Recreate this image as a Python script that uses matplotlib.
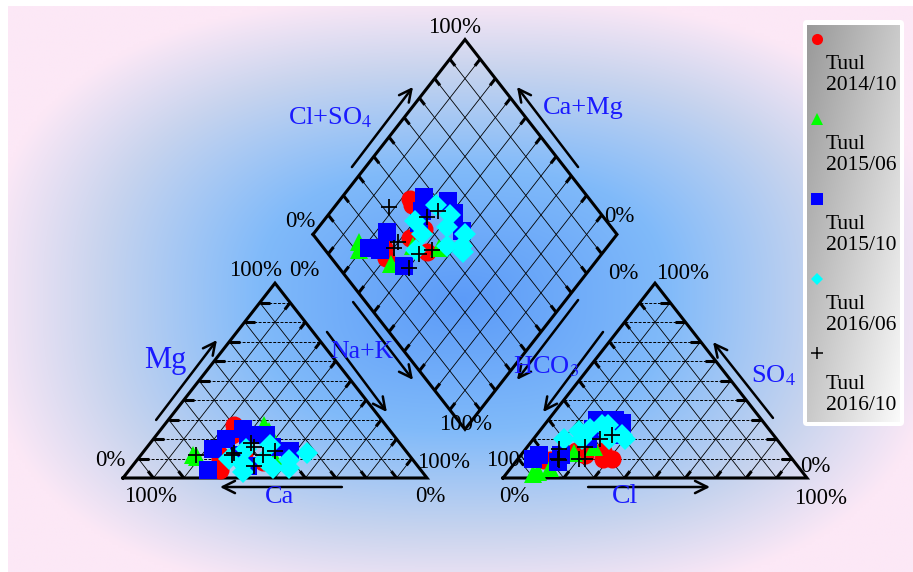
import matplotlib.pyplot as plt
import numpy as np
from matplotlib.patches import FancyBboxPatch

plt.rcParams["font.family"] = ["Liberation Serif", "DejaVu Serif"]
plt.rcParams["mathtext.fontset"] = "stix"

# water samples, percent of meq/L
# cations: Na+K and Mg (Ca is the rest); anions: Cl and SO4 (HCO3 is the rest)
labels = ["Tuul\n2014/10", "Tuul\n2015/06", "Tuul\n2015/10", "Tuul\n2016/06", "Tuul\n2016/10"]
colours = ["#ff0000", "#00ff00", "#0000ff", "#00ffff", "#000000"]
markers = ["o", "^", "s", "D", "+"]

nak_1410 = [23, 26, 30, 35, 42, 33, 25, 27]
mg_1410 = [27, 12, 4, 9, 8, 14, 22, 10]
cl_1410 = [31, 11, 9, 28, 21, 17, 26, 12]
so4_1410 = [10, 9, 9, 10, 12, 14, 14, 8]

nak_1506 = [17, 19, 33, 45, 36]
mg_1506 = [12, 11, 27, 10, 24]
cl_1506 = [10, 9, 13, 22, 17]
so4_1506 = [3, 2, 5, 16, 13]

nak_1510 = [27, 24, 38, 48, 41, 22, 30, 32, 36, 26]
mg_1510 = [25, 20, 6, 14, 16, 15, 22, 12, 22, 4]
cl_1510 = [16, 13, 14, 28, 22, 5, 17, 18, 25, 6]
so4_1510 = [30, 12, 8, 22, 30, 10, 25, 20, 28, 12]

nak_1606 = [33, 52, 54, 38, 47, 40, 30, 42, 36, 50]
mg_1606 = [15, 5, 13, 3, 5, 17, 10, 9, 7, 9]
cl_1606 = [21, 24, 25, 10, 16, 28, 13, 19, 16, 30]
so4_1606 = [27, 22, 20, 20, 25, 22, 24, 27, 20, 20]

nak_1610 = [18, 40, 33, 30, 40, 35, 43, 30]
mg_1610 = [12, 12, 18, 13, 6, 16, 14, 12]
cl_1610 = [22, 20, 22, 11, 14, 25, 19, 13]
so4_1610 = [10, 10, 20, 15, 9, 22, 16, 10]

samples = [
    (nak_1410, mg_1410, cl_1410, so4_1410),
    (nak_1506, mg_1506, cl_1506, so4_1506),
    (nak_1510, mg_1510, cl_1510, so4_1510),
    (nak_1606, mg_1606, cl_1606, so4_1606),
    (nak_1610, mg_1610, cl_1610, so4_1610),
]

H = np.sqrt(3) / 2
OFF = 1.25  # left corner of the anion triangle

W, HT = 913, 572
# pixel placement of the ternary frame
PX0, PY0, SX, SY = 123, 478, 304, 225


def cation_xy(nak, mg):
    n, m = np.asarray(nak) / 100, np.asarray(mg) / 100
    return n + m / 2, m * H


def anion_xy(cl, so4):
    c, s = np.asarray(cl) / 100, np.asarray(so4) / 100
    return OFF + c + s / 2, s * H


def diamond_xy(nak, cl, so4):
    n = np.asarray(nak) / 100
    a = (np.asarray(cl) + np.asarray(so4)) / 100
    return (n + OFF + a) / 2, H * (OFF + a - n)


def seg(ax, p, q, **kw):
    ax.plot([p[0], q[0]], [p[1], q[1]], color="black", **kw)


def tick(ax, p, q, length=0.035):
    p, q = np.asarray(p), np.asarray(q)
    d = q - p
    d = d / np.hypot(*d) * length
    seg(ax, p, p + d, lw=2.2, solid_capstyle="butt", zorder=3)


def triangle(ax, x0, left_ticks):
    A, B, C = np.array([x0, 0]), np.array([x0 + 1, 0]), np.array([x0 + 0.5, H])
    for k in np.arange(1, 10) / 10:
        p1, p2 = A + k * (C - A), B + k * (C - B)
        seg(ax, p1, p2, lw=0.7, ls=(0, (3, 1.5)), zorder=2)
        q1, q2 = A + k * (B - A), C + k * (B - C)
        seg(ax, q1, q2, lw=0.6, zorder=2)
        r1, r2 = B + k * (A - B), C + k * (A - C)
        seg(ax, r1, r2, lw=0.6, zorder=2)
        if left_ticks:
            tick(ax, p1, p2)
            tick(ax, q2, q1)
            tick(ax, r1, r2)
        else:
            tick(ax, p2, p1)
            tick(ax, r2, r1)
            tick(ax, q1, q2)
    ax.plot([A[0], B[0], C[0], A[0]], [A[1], B[1], C[1], A[1]],
            color="black", lw=2.2, solid_joinstyle="miter", zorder=3)


def diamond(ax):
    L = np.array([0.625, 1.25 * H])
    T = np.array([1.125, 2.25 * H])
    R = np.array([1.625, 1.25 * H])
    Bm = np.array([1.125, 0.25 * H])
    for k in np.arange(1, 10) / 10:
        p1, p2 = L + k * (Bm - L), T + k * (R - T)
        seg(ax, p1, p2, lw=0.6, zorder=2)
        tick(ax, p1, p2)
        tick(ax, p2, p1)
        q1, q2 = L + k * (T - L), Bm + k * (R - Bm)
        seg(ax, q1, q2, lw=0.6, zorder=2)
        tick(ax, q1, q2)
        tick(ax, q2, q1)
    ax.plot([L[0], T[0], R[0], Bm[0], L[0]], [L[1], T[1], R[1], Bm[1], L[1]],
            color="black", lw=2.2, solid_joinstyle="miter", zorder=3)


fig = plt.figure(figsize=(W / 100, HT / 100), dpi=100)

# background panel
bg = fig.add_axes([0, 0, 1, 1], zorder=0)
bg.set_xlim(0, W)
bg.set_ylim(HT, 0)
bg.axis("off")
gx, gy = np.meshgrid(np.linspace(8, W, 300), np.linspace(6, HT, 200))
p = 2.6
d = (np.abs((gx - 462) / 455) ** p + np.abs((gy - 300) / 290) ** p) ** (1 / p)
stops = [0, 0.45, 0.8, 1.05]
rgb = np.dstack([
    np.interp(d, stops, [92, 128, 200, 252]),
    np.interp(d, stops, [155, 186, 212, 232]),
    np.interp(d, stops, [248, 250, 238, 246]),
]) / 255
bg.imshow(rgb, extent=(8, W, HT, 6), aspect="auto", interpolation="bilinear")

# ternary axes
ax = fig.add_axes([0, 0, 1, 1], zorder=1)
ax.set_xlim(-PX0 / SX, (W - PX0) / SX)
ax.set_ylim((PY0 - HT) / SY, PY0 / SY)
ax.axis("off")
ax.patch.set_alpha(0)

triangle(ax, 0, True)
triangle(ax, OFF, False)
diamond(ax)

arrow_kw = dict(arrowstyle="->", lw=1.8, color="black", mutation_scale=22,
                shrinkA=0, shrinkB=0)
arrows = [
    ((0.109, 0.258), (0.309, 0.613)),
    ((0.671, 0.649), (0.868, 0.293)),
    ((0.757, 0.782), (0.954, 0.436)),
    ((0.720, -0.040), (0.319, -0.040)),
    ((1.530, -0.040), (1.931, -0.040)),
    ((2.138, 0.267), (1.941, 0.604)),
    ((1.497, 0.791), (1.296, 0.436)),
    ((1.579, 0.649), (1.382, 0.293)),
    ((0.753, 1.382), (0.954, 1.738)),
    ((1.497, 1.382), (1.296, 1.738)),
]
for start, end in arrows:
    ax.annotate("", xy=end, xytext=start, arrowprops=arrow_kw, zorder=3)

blue_labels = [
    ("Mg", 0.138, 0.524, 22),
    ("Na+K", 0.786, 0.560, 18.5),
    ("Ca", 0.516, -0.084, 19),
    ("Cl", 1.651, -0.084, 20),
    ("SO$_4$", 2.138, 0.455, 19),
    ("HCO$_3$", 1.390, 0.495, 19),
    ("Cl+SO$_4$", 0.681, 1.600, 19),
    ("Ca+Mg", 1.513, 1.644, 19),
]
for txt, x, y, size in blue_labels:
    ax.text(x, y, txt, color="#1a1aff", fontsize=size, ha="center", va="center",
            zorder=4)

pct_labels = [
    ("100%", 1.092, 2.004), ("0%", 0.582, 1.142), ("0%", 1.632, 1.160),
    ("100%", 1.128, 0.236), ("100%", 0.4375, 0.920), ("0%", 0.595, 0.920),
    ("0%", -0.043, 0.080), ("100%", 0.089, -0.080), ("0%", 1.010, -0.084),
    ("100%", 1.053, 0.071), ("0%", 1.645, 0.907), ("100%", 1.839, 0.907),
    ("100%", 1.280, 0.080), ("0%", 1.286, -0.084), ("0%", 2.276, 0.049),
    ("100%", 2.293, -0.089),
]
for txt, x, y in pct_labels:
    ax.text(x, y, txt, fontsize=16.5, ha="center", va="center", zorder=2.5)

sizes = {"o": 13, "^": 13, "s": 13, "D": 11, "+": 12}
for (nak, mg, cl, so4), c, mk in zip(samples, colours, markers):
    kw = dict(ls="none", marker=mk, ms=sizes[mk], color=c, zorder=5)
    if mk == "+":
        kw.update(mew=1.3)
    else:
        kw.update(mew=0)
    ax.plot(*cation_xy(nak, mg), **kw)
    ax.plot(*anion_xy(cl, so4), **kw)
    ax.plot(*diamond_xy(nak, cl, so4), **kw)

# legend
lg = fig.add_axes([0, 0, 1, 1], zorder=3)
lg.set_xlim(0, W)
lg.set_ylim(HT, 0)
lg.axis("off")
lg.patch.set_alpha(0)
lg.add_patch(FancyBboxPatch((803, 20), 101, 406, boxstyle="round,pad=0,rounding_size=4",
                            fc="white", ec="none", zorder=1))
lx, ly = np.meshgrid(np.linspace(0, 1, 60), np.linspace(0, 1, 240))
shade = np.interp((lx + ly) / 2, [0, 1], [0.60, 0.98])
lg.imshow(np.dstack([shade] * 3), extent=(807, 900, 422, 25), aspect="auto",
          interpolation="bilinear", zorder=2)
lg.set_xlim(0, W)
lg.set_ylim(HT, 0)
for i, (lab, c, mk) in enumerate(zip(labels, colours, markers)):
    y0 = 39 + 80 * i
    lg.plot(817, y0 if mk != "+" else y0 - 6, marker=mk, color=c, ls="none",
            ms=8 if mk != "D" else 6.5, mew=0 if mk != "+" else 1.1, zorder=3)
    lg.text(826, y0 + 36, lab, fontsize=15.5, ha="left", va="center",
            linespacing=1.15, zorder=3)

fig.savefig("out.png", dpi=100)
